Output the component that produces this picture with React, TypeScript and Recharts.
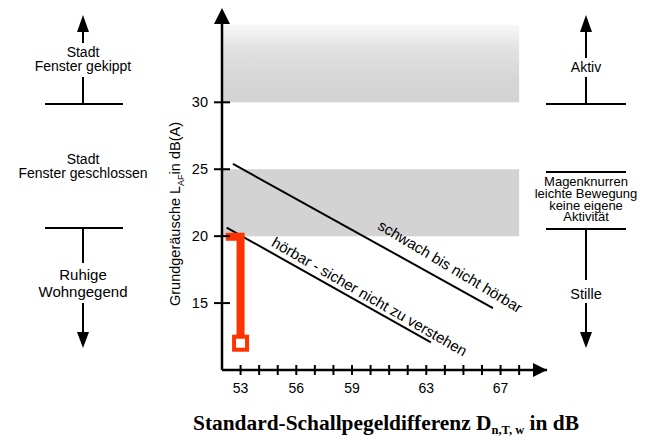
import React from 'react';
import { LineChart, Line, XAxis, YAxis, ReferenceArea, ReferenceDot } from 'recharts';

// categories / ticks
const xTicks = [53, 54, 55, 56, 57, 58, 59, 60, 61, 62, 63, 64, 65, 66, 67, 68];
const xTickLabels = [53, 56, 59, 63, 67];
const yTicks = [15, 20, 25, 30];

// series
const upperLine = [
  { x: 52.59, y: 25.4 },
  { x: 66.59, y: 14.63 },
];
const lowerLine = [
  { x: 52.25, y: 20.64 },
  { x: 63.25, y: 12.07 },
];
const redMarker = [
  { x: 52.2, y: 19.95 },
  { x: 53, y: 19.95 },
  { x: 53, y: 12.0 },
];

// bands
const activeBand = { y1: 30, y2: 35.8 };
const quietBand = { y1: 20, y2: 25 };
const bandX = { x1: 52, x2: 68 };

const SANS = "'Liberation Sans', Arial, Helvetica, sans-serif";
const SERIF = "'Liberation Serif', 'Times New Roman', serif";

const XTick = (props: any) => {
  const { x, y, payload } = props;
  const v = payload.value;
  return (
    <g>
      <line x1={x} x2={x} y1={y - 5} y2={y + 5} stroke="#000" strokeWidth={2} />
      {xTickLabels.includes(v) && (
        <text x={x} y={y + 23} textAnchor="middle" fontSize={14} fontFamily={SANS} fill="#000">
          {v}
        </text>
      )}
    </g>
  );
};

const YTick = (props: any) => {
  const { x, y, payload } = props;
  return (
    <g>
      <line x1={x - 8} x2={x + 8} y1={y} y2={y} stroke="#000" strokeWidth={2} />
      <text x={x - 14} y={y + 5} textAnchor="end" fontSize={14.5} fontFamily={SANS} fill="#000">
        {payload.value}
      </text>
    </g>
  );
};

const UpArrowHead = (p: any) => (
  <polygon points={`${p.cx},${p.cy - 14} ${p.cx - 8},${p.cy + 2} ${p.cx + 8},${p.cy + 2}`} fill="#000" />
);
const RightArrowHead = (p: any) => (
  <polygon points={`${p.cx},${p.cy} ${p.cx - 14},${p.cy - 7} ${p.cx - 14},${p.cy + 7}`} fill="#000" />
);

const rotatedLabel = (txt: string, angle: number) => (p: any) => (
  <text
    x={p.cx}
    y={p.cy}
    transform={`rotate(${angle} ${p.cx} ${p.cy})`}
    textAnchor="middle"
    dominantBaseline="central"
    fontSize={15}
    fontFamily={SANS}
    fill="#000"
  >
    {txt}
  </text>
);

const SquareDot = (p: any) => {
  if (p.index !== redMarker.length - 1) return <g key={p.index} />;
  return (
    <rect
      key={p.index}
      x={p.cx - 6.5}
      y={p.cy - 6.5}
      width={13}
      height={13}
      fill="#fff"
      stroke="#ff3300"
      strokeWidth={4}
    />
  );
};

const Overlay = () => (
  <svg
    width={653}
    height={437}
    style={{ position: 'absolute', left: 0, top: 0, pointerEvents: 'none' }}
    fontFamily={SANS}
  >
    {/* left column */}
    <polygon points="83,15 77,32 89,32" fill="#000" />
    <line x1={83} x2={83} y1={31} y2={43} stroke="#000" strokeWidth={2} />
    <text x={83} y={57} textAnchor="middle" fontSize={14}>Stadt</text>
    <text x={83} y={70.5} textAnchor="middle" fontSize={14}>Fenster gekippt</text>
    <line x1={83} x2={83} y1={77} y2={104} stroke="#000" strokeWidth={2} />
    <line x1={45} x2={123} y1={104} y2={104} stroke="#000" strokeWidth={2} />
    <text x={83} y={164} textAnchor="middle" fontSize={14}>Stadt</text>
    <text x={83} y={178} textAnchor="middle" fontSize={14}>Fenster geschlossen</text>
    <line x1={45} x2={123} y1={228} y2={228} stroke="#000" strokeWidth={2} />
    <line x1={83} x2={83} y1={228} y2={263} stroke="#000" strokeWidth={2} />
    <text x={83} y={280} textAnchor="middle" fontSize={15}>Ruhige</text>
    <text x={83} y={297} textAnchor="middle" fontSize={15}>Wohngegend</text>
    <line x1={83} x2={83} y1={303} y2={333} stroke="#000" strokeWidth={2} />
    <polygon points="77,332 89,332 83,348" fill="#000" />

    {/* y axis title */}
    <text x={0} y={0} transform="translate(180 214) rotate(-90)" textAnchor="middle" fontSize={14.5}>
      Grundgeräusche L
      <tspan fontSize={9} dy={4}>AF</tspan>
      <tspan dy={-4}>in dB(A)</tspan>
    </text>

    {/* right column */}
    <polygon points="586,15 580,32 592,32" fill="#000" />
    <line x1={586} x2={586} y1={31} y2={58} stroke="#000" strokeWidth={2} />
    <text x={586} y={72} textAnchor="middle" fontSize={14}>Aktiv</text>
    <line x1={586} x2={586} y1={77} y2={104} stroke="#000" strokeWidth={2} />
    <line x1={546} x2={626} y1={104} y2={104} stroke="#000" strokeWidth={2} />
    <line x1={546} x2={626} y1={172} y2={172} stroke="#000" strokeWidth={2} />
    <text x={586} y={185.5} textAnchor="middle" fontSize={13}>Magenknurren</text>
    <text x={586} y={197.5} textAnchor="middle" fontSize={13}>leichte Bewegung</text>
    <text x={586} y={209.5} textAnchor="middle" fontSize={13}>keine eigene</text>
    <text x={586} y={221} textAnchor="middle" fontSize={13}>Aktivität</text>
    <line x1={546} x2={626} y1={229} y2={229} stroke="#000" strokeWidth={2} />
    <line x1={586} x2={586} y1={229} y2={280} stroke="#000" strokeWidth={2} />
    <text x={586} y={299} textAnchor="middle" fontSize={14.5}>Stille</text>
    <line x1={586} x2={586} y1={303} y2={333} stroke="#000" strokeWidth={2} />
    <polygon points="580,332 592,332 586,348" fill="#000" />

    {/* x axis title */}
    <text x={193} y={430} fontFamily={SERIF} fontWeight="bold" fontSize={21.4}>
      Standard-Schallpegeldifferenz D
      <tspan fontSize={12.5} dy={4}>n,T, w</tspan>
      <tspan dy={-4}> in dB</tspan>
    </text>
  </svg>
);

export default function App() {
  return (
    <div style={{ position: 'absolute', left: 0, top: 0, width: 653, height: 437, background: '#fff' }}>
      <LineChart width={653} height={437} margin={{ top: 22, right: 106, bottom: 37, left: 162 }}>
        <defs>
          <linearGradient id="topFade" x1="0" y1="1" x2="0" y2="0">
            <stop offset="0" stopColor="#d2d2d2" />
            <stop offset="0.3" stopColor="#d6d6d6" />
            <stop offset="0.7" stopColor="#e2e2e2" />
            <stop offset="1" stopColor="#f8f8f8" />
          </linearGradient>
        </defs>
        <ReferenceArea
          x1={bandX.x1}
          x2={bandX.x2}
          y1={activeBand.y1}
          y2={activeBand.y2}
          fill="url(#topFade)"
          fillOpacity={1}
          stroke="none"
          ifOverflow="visible"
        />
        <ReferenceArea
          x1={bandX.x1}
          x2={bandX.x2}
          y1={quietBand.y1}
          y2={quietBand.y2}
          fill="#d3d3d3"
          fillOpacity={1}
          stroke="none"
          ifOverflow="visible"
        />
        <XAxis
          type="number"
          dataKey="x"
          domain={[52, 69.5]}
          ticks={xTicks}
          interval={0}
          allowDataOverflow
          tickSize={0}
          tickMargin={0}
          tickLine={false}
          tick={<XTick />}
          axisLine={{ stroke: '#000', strokeWidth: 2.5 }}
          height={30}
        />
        <YAxis
          type="number"
          dataKey="y"
          domain={[10, 36]}
          ticks={yTicks}
          interval={0}
          allowDataOverflow
          tickSize={0}
          tickMargin={0}
          tickLine={false}
          tick={<YTick />}
          axisLine={{ stroke: '#000', strokeWidth: 2.5 }}
          width={60}
        />
        <Line data={upperLine} dataKey="y" type="linear" stroke="#000" strokeWidth={2} dot={false} isAnimationActive={false} />
        <Line data={lowerLine} dataKey="y" type="linear" stroke="#000" strokeWidth={2} dot={false} isAnimationActive={false} />
        <Line
          data={redMarker}
          dataKey="y"
          type="linear"
          stroke="#ff3300"
          strokeWidth={8}
          strokeLinejoin="miter"
          strokeLinecap="butt"
          dot={SquareDot}
          activeDot={false}
          isAnimationActive={false}
        />
        <ReferenceDot x={52} y={36} r={0} shape={UpArrowHead} ifOverflow="visible" />
        <ReferenceDot x={69.5} y={10} r={0} shape={RightArrowHead} ifOverflow="visible" />
        <ReferenceDot x={64.3} y={17.75} r={0} shape={rotatedLabel('schwach bis nicht hörbar', 31)} ifOverflow="visible" />
        <ReferenceDot x={59.95} y={15.5} r={0} shape={rotatedLabel('hörbar - sicher nicht zu verstehen', 30)} ifOverflow="visible" />
      </LineChart>
      <Overlay />
    </div>
  );
}
